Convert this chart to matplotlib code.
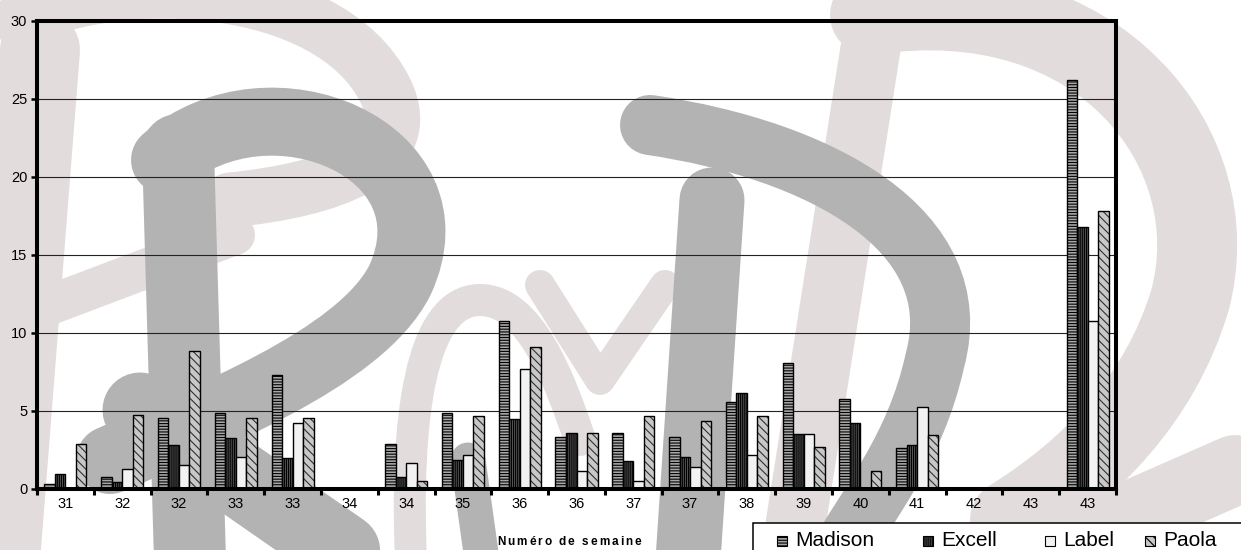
# weekly bar chart (Madison / Excell / Label / Paola) with the PyD watermark behind it
import matplotlib
matplotlib.use("Agg")

import matplotlib.pyplot as plt
from matplotlib.path import Path
from matplotlib.patches import PathPatch, Rectangle
import numpy as np

plt.rcParams['font.family'] = ['Liberation Sans', 'DejaVu Sans']
plt.rcParams['hatch.linewidth'] = 0.8

# data
weeks = ['31', '32', '32', '33', '33', '34', '34', '35', '36', '36',
         '37', '37', '38', '39', '40', '41', '42', '43', '43']
madison = [0.3, 0.77, 4.53, 4.9, 7.3, 0, 2.86, 4.9, 10.8, 3.35,
           3.6, 3.35, 5.55, 8.1, 5.8, 2.6, 0, 0, 26.2]
excell = [0.95, 0.45, 2.85, 3.25, 1.97, 0, 0.8, 1.85, 4.5, 3.6,
          1.8, 2.05, 6.15, 3.5, 4.25, 2.85, 0, 0, 16.8]
label = [0, 1.28, 1.54, 2.05, 4.25, 0, 1.68, 2.2, 7.7, 1.15,
         0.5, 1.4, 2.2, 3.55, 0, 5.25, 0, 0, 10.8]
paola = [2.86, 4.74, 8.87, 4.53, 4.53, 0, 0.5, 4.65, 9.1, 3.6,
         4.65, 4.35, 4.65, 2.7, 1.15, 3.45, 0, 0, 17.8]

names = ['Madison', 'Excell', 'Label', 'Paola']
series = [madison, excell, label, paola]
# facecolor, hatch, hatch colour
looks = [('#a8a8a8', '------', 'black'),
         ('#555555', '||||||||', 'black'),
         ('#f2f2f2', None, 'black'),
         ('#c8c8c8', '\\\\\\\\', '#303030')]

W, H = 1241, 550
fig = plt.figure(figsize=(W / 100, H / 100), dpi=100)

# background watermark, drawn in pixel coordinates
bg = fig.add_axes([0, 0, 1, 1], zorder=0)
bg.set_xlim(0, W)
bg.set_ylim(H, 0)
bg.axis('off')

PINK = '#e3dcdc'
GRAY = '#b3b3b3'


def stroke(pts, width, color, curved=True):
    if curved and len(pts) > 2:
        codes = [Path.MOVETO] + [Path.CURVE4] * (len(pts) - 1)
    else:
        codes = [Path.MOVETO] + [Path.LINETO] * (len(pts) - 1)
    bg.add_patch(PathPatch(Path(pts, codes), fill=False, lw=width * 0.72,
                           edgecolor=color, capstyle='round', joinstyle='round'))


# pink parts
stroke([(40, 50), (0, 560)], 80, PINK)
stroke([(20, 20), (120, -30), (330, -20), (385, 90),
        (420, 160), (330, 190), (230, 200)], 55, PINK)
stroke([(50, 305), (235, 235)], 40, PINK)
stroke([(411, 560), (405, 420), (420, 300), (480, 300),
        (530, 300), (560, 380), (580, 440)], 32, PINK)
stroke([(540, 285), (600, 380), (665, 285)], 30, PINK, curved=False)
stroke([(875, 20), (790, 560)], 60, PINK)
stroke([(870, 15), (1100, -20), (1230, 150), (1190, 300),
        (1160, 400), (1090, 470), (1010, 520)], 80, PINK)
stroke([(1030, 560), (1235, 470)], 70, PINK)

# gray parts
stroke([(178, 150), (190, 560)], 72, GRAY)
stroke([(165, 160), (270, 70), (460, 150), (400, 280),
        (360, 360), (200, 420), (110, 460)], 68, GRAY)
stroke([(140, 410), (370, 570)], 75, GRAY)
stroke([(650, 125), (820, 150), (970, 230), (935, 360),
        (915, 450), (870, 500), (830, 570)], 60, GRAY)
stroke([(712, 200), (688, 560)], 65, GRAY)
stroke([(468, 460), (482, 560)], 35, GRAY)

# main chart
ax = fig.add_axes([37 / W, 1 - 489 / H, (1116 - 37) / W, (489 - 21) / H], zorder=1)
ax.patch.set_alpha(0)

x = np.arange(len(weeks))
w = 0.185
for i, (vals, (fc, hatch, hc)) in enumerate(zip(series, looks)):
    pos = x + (i - 1.5) * w
    ax.bar(pos, vals, w, color=fc, hatch=hatch, edgecolor=hc, linewidth=0)
    ax.bar(pos, vals, w, fill=False, edgecolor='black', linewidth=1.0)

ax.set_xlim(-0.5, len(weeks) - 0.5)
ax.set_ylim(0, 30)
ax.set_yticks(range(0, 31, 5))
ax.set_xticks(np.arange(-0.5, len(weeks), 1))
ax.set_xticklabels([])
ax.set_xticks(x, minor=True)
ax.set_xticklabels(weeks, minor=True)
ax.tick_params(axis='x', which='minor', length=0, pad=6, labelsize=10.5)
ax.tick_params(axis='x', which='major', length=4, width=2.2, direction='out')
ax.tick_params(axis='y', length=4, width=1.8, pad=3, labelsize=10.5)
ax.yaxis.grid(True, color='#222222', linewidth=0.8)
ax.set_axisbelow(True)
for s in ax.spines.values():
    s.set_linewidth(2.9)

# x axis title, letter spaced
renderer = fig.canvas.get_renderer()
xs = 497
fs = 8.5
for ch in 'Numéro de semaine':
    t = fig.text(xs / W, 1 - 545 / H, ch, fontsize=fs, fontweight='bold',
                 ha='left', va='baseline')
    if ch == ' ':
        adv = fs / 72 * 100 * 0.278
    else:
        adv = t.get_window_extent(renderer).width
    xs += adv + 2.0

# legend box at the bottom right, partly cut by the picture edge
top = fig.add_axes([0, 0, 1, 1], zorder=2)
top.set_xlim(0, W)
top.set_ylim(H, 0)
top.axis('off')
top.add_patch(Rectangle((753, 523), 600, 60, facecolor='white', edgecolor='black',
                        linewidth=1.1))
square_x = [777, 923, 1045, 1145]
for sx, name, (fc, hatch, hc) in zip(square_x, names, looks):
    top.add_patch(Rectangle((sx, 535.5), 10, 10, facecolor=fc, hatch=hatch,
                            edgecolor='black', linewidth=0.8))
    top.text(sx + 18, 540, name, fontsize=15, ha='left', va='center')

fig.savefig('out.png', dpi=100)
